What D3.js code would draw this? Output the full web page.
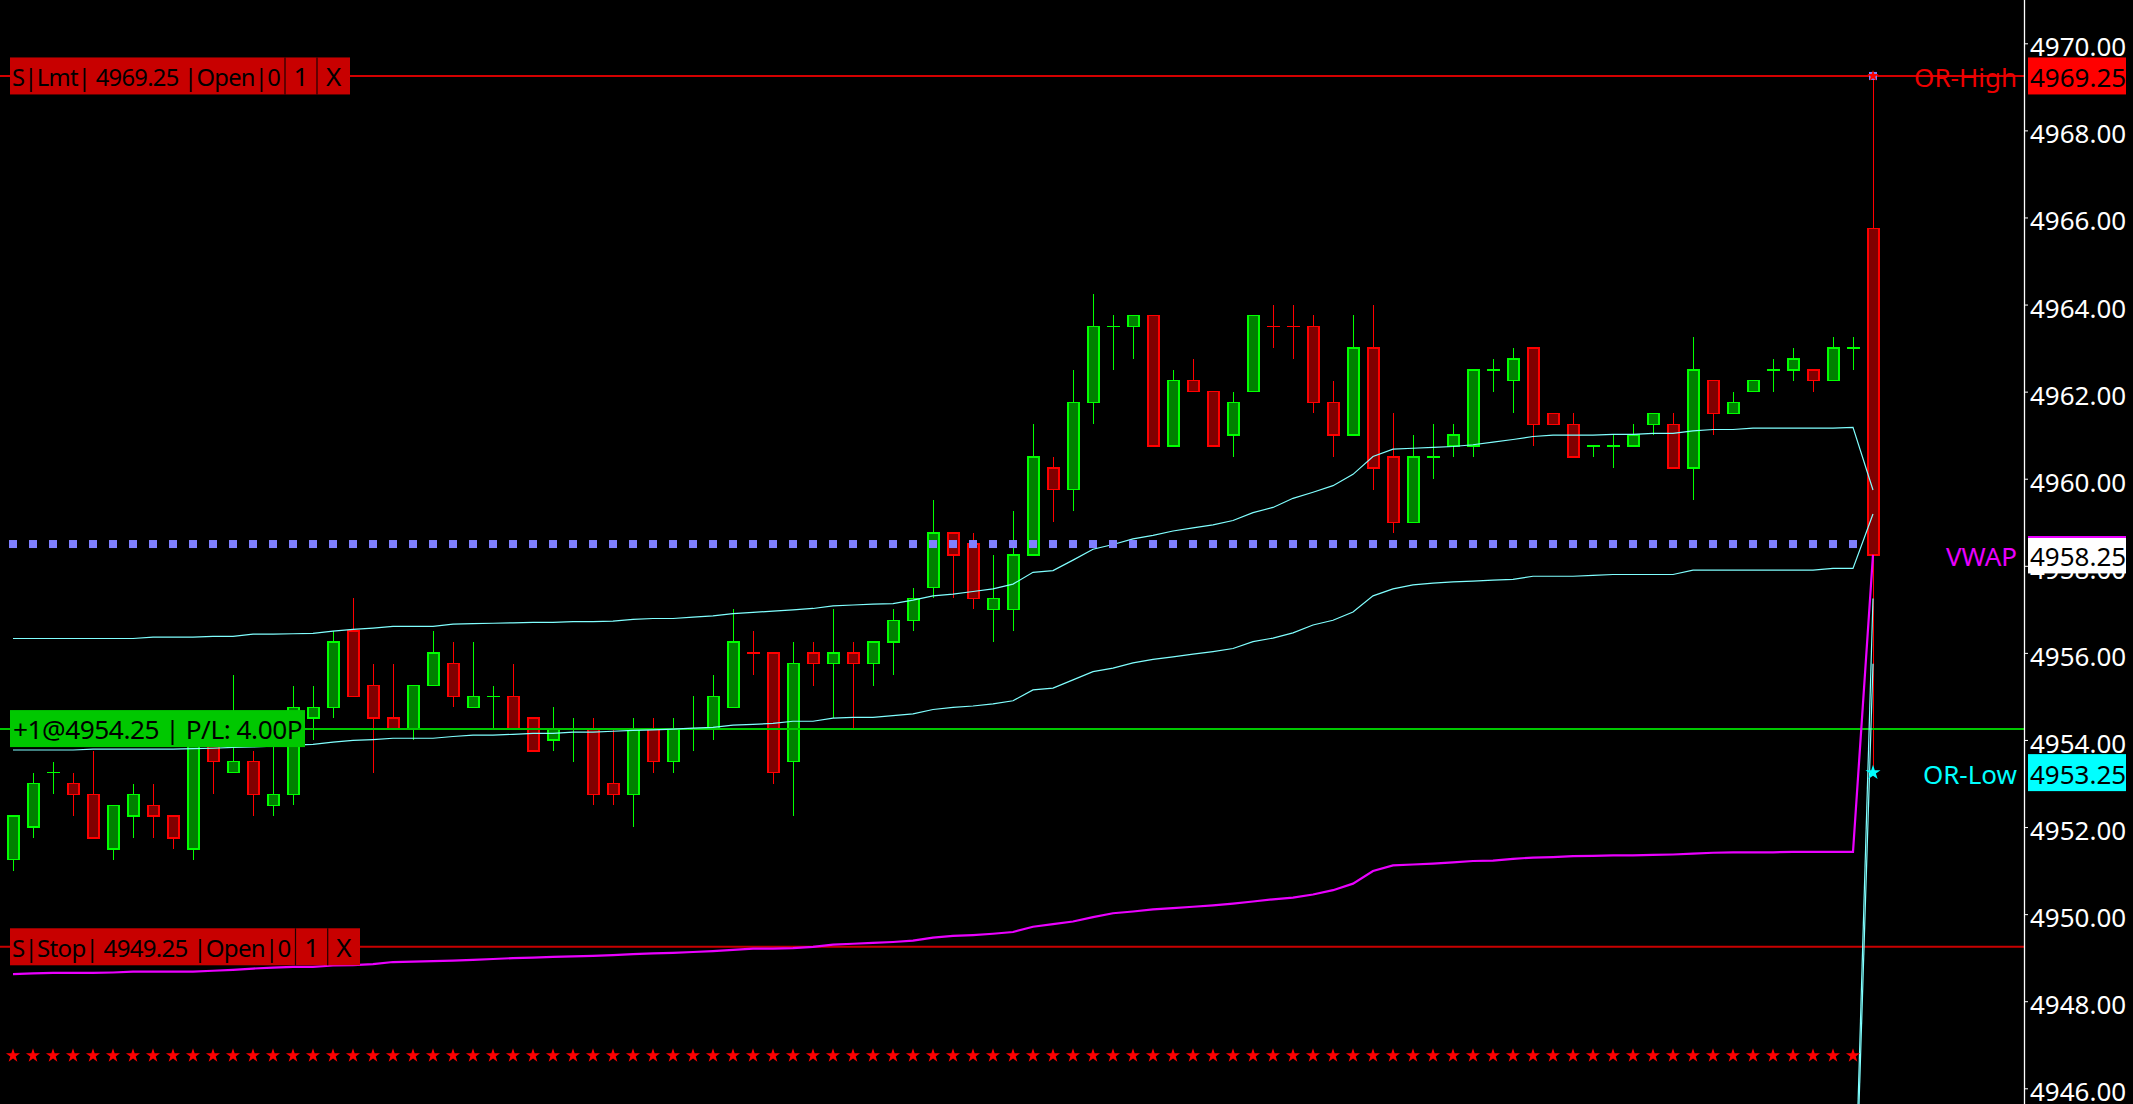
<!DOCTYPE html>
<html>
<head>
<meta charset="utf-8">
<script src="https://cdn.jsdelivr.net/npm/d3@7"></script>
<style>
html, body { margin: 0; padding: 0; background: #000; overflow: hidden; }
svg { display: block; }
</style>
</head>
<body>
<svg id="chart" width="2133" height="1104"></svg>
<script>
// bar data (one value per bar, left to right)
const opens = [4951.25,4952.0,4953.25,4953.0,4952.75,4951.5,4952.25,4952.5,4952.25,4951.5,
  4954.0,4953.25,4953.5,4952.5,4952.75,4954.5,4954.75,4956.5,4955.25,4954.5,
  4954.25,4955.25,4955.75,4954.75,4955.0,4955.0,4954.5,4954.0,4954.25,4954.25,
  4953.0,4952.75,4954.25,4953.5,4954.25,4954.25,4954.75,4956.0,4956.0,4953.5,
  4956.0,4955.75,4956.0,4955.75,4956.25,4956.75,4957.5,4958.75,4958.5,4957.0,
  4957.0,4958.25,4960.25,4959.75,4961.75,4963.5,4963.5,4963.75,4960.75,4962.25,
  4962.0,4961.0,4962.0,4963.5,4963.5,4963.5,4961.75,4961.0,4963.0,4960.5,
  4959.0,4960.5,4960.75,4960.75,4962.5,4962.25,4963.0,4961.5,4961.25,4960.75,
  4960.75,4960.75,4961.25,4961.25,4960.25,4962.25,4961.5,4962.0,4962.5,4962.5,
  4962.5,4962.25,4963.0,4965.75];
const highs = [4952.25,4953.25,4953.5,4953.25,4953.75,4952.5,4953.0,4953.0,4952.25,4954.25,
  4954.25,4955.5,4953.75,4954.0,4955.25,4955.25,4956.5,4957.25,4955.75,4955.75,
  4955.25,4956.5,4956.25,4956.25,4955.25,4955.75,4954.5,4954.75,4954.5,4954.5,
  4954.25,4954.5,4954.5,4954.5,4955.0,4955.5,4957.0,4956.5,4956.0,4956.25,
  4956.25,4957.0,4956.25,4956.25,4957.0,4957.5,4959.5,4958.75,4958.75,4958.25,
  4959.25,4961.25,4960.5,4962.5,4964.25,4963.75,4963.75,4963.75,4962.5,4962.75,
  4962.0,4962.0,4963.75,4964.0,4964.0,4963.75,4962.25,4963.75,4964.0,4961.5,
  4961.0,4961.25,4961.25,4962.5,4962.75,4963.0,4963.0,4961.5,4961.5,4960.75,
  4961.0,4961.25,4961.5,4961.5,4963.25,4962.25,4962.0,4962.25,4962.75,4963.0,
  4962.5,4963.25,4963.25,4969.25];
const lows = [4951.0,4951.75,4952.75,4952.25,4951.75,4951.25,4951.75,4951.75,4951.5,4951.25,
  4952.75,4953.25,4952.25,4952.25,4952.5,4954.0,4954.5,4955.0,4953.25,4954.25,
  4954.0,4955.25,4954.75,4954.75,4954.25,4954.25,4953.75,4953.75,4953.5,4952.5,
  4952.5,4952.0,4953.25,4953.25,4953.75,4954.0,4954.75,4955.5,4953.0,4952.25,
  4955.25,4954.5,4954.25,4955.25,4955.5,4956.5,4957.25,4957.25,4957.0,4956.25,
  4956.5,4958.25,4959.0,4959.25,4961.25,4962.5,4962.75,4960.75,4960.75,4962.0,
  4960.75,4960.5,4962.0,4963.0,4962.75,4961.5,4960.5,4961.0,4959.75,4958.75,
  4959.0,4960.0,4960.5,4960.5,4962.0,4961.5,4960.75,4961.25,4960.5,4960.5,
  4960.25,4960.75,4961.0,4960.25,4959.5,4961.0,4961.5,4962.0,4962.0,4962.25,
  4962.0,4962.25,4962.5,4953.25];
const closes = [4952.25,4953.0,4953.25,4952.75,4951.75,4952.5,4952.75,4952.25,4951.75,4954.25,
  4953.5,4953.5,4952.75,4952.75,4954.75,4954.75,4956.25,4955.0,4954.5,4954.25,
  4955.25,4956.0,4955.0,4955.0,4955.0,4954.25,4953.75,4954.25,4954.25,4952.75,
  4952.75,4954.25,4953.5,4954.25,4954.25,4955.0,4956.25,4956.0,4953.25,4955.75,
  4955.75,4956.0,4955.75,4956.25,4956.75,4957.25,4958.75,4958.25,4957.25,4957.25,
  4958.25,4960.5,4959.75,4961.75,4963.5,4963.5,4963.75,4960.75,4962.25,4962.0,
  4960.75,4961.75,4963.75,4963.5,4963.5,4961.75,4961.0,4963.0,4960.25,4959.0,
  4960.5,4960.5,4961.0,4962.5,4962.5,4962.75,4961.25,4961.25,4960.5,4960.75,
  4960.75,4961.0,4961.5,4960.25,4962.5,4961.5,4961.75,4962.25,4962.5,4962.75,
  4962.25,4963.0,4963.0,4958.25];
// dojis that were painted as down bars
const dojiDown = [37, 63, 64];

// indicator lines
const bandUpper = [4956.33,4956.33,4956.33,4956.33,4956.33,4956.33,4956.33,4956.36,4956.36,4956.36,
  4956.38,4956.38,4956.43,4956.43,4956.44,4956.45,4956.50,4956.54,4956.57,4956.61,
  4956.61,4956.61,4956.66,4956.67,4956.68,4956.69,4956.70,4956.70,4956.72,4956.72,
  4956.73,4956.77,4956.79,4956.79,4956.82,4956.85,4956.90,4956.93,4956.96,4956.99,
  4957.02,4957.08,4957.10,4957.12,4957.13,4957.21,4957.31,4957.35,4957.41,4957.47,
  4957.58,4957.85,4957.89,4958.13,4958.38,4958.49,4958.62,4958.70,4958.80,4958.87,
  4958.94,4959.04,4959.22,4959.34,4959.55,4959.69,4959.84,4960.10,4960.51,4960.68,
  4960.70,4960.72,4960.74,4960.78,4960.84,4960.90,4960.97,4961.00,4961.00,4961.00,
  4961.02,4961.02,4961.04,4961.04,4961.10,4961.13,4961.13,4961.16,4961.16,4961.16,
  4961.16,4961.16,4961.18,4959.74];
const bandLower = [4953.77,4953.77,4953.77,4953.77,4953.79,4953.79,4953.79,4953.79,4953.79,4953.80,
  4953.81,4953.83,4953.84,4953.86,4953.88,4953.90,4953.95,4953.99,4954.01,4954.04,
  4954.04,4954.04,4954.08,4954.11,4954.11,4954.13,4954.15,4954.15,4954.18,4954.18,
  4954.20,4954.22,4954.23,4954.25,4954.27,4954.29,4954.34,4954.36,4954.38,4954.43,
  4954.43,4954.50,4954.52,4954.52,4954.56,4954.60,4954.70,4954.75,4954.78,4954.83,
  4954.90,4955.15,4955.19,4955.38,4955.57,4955.65,4955.77,4955.85,4955.91,4955.97,
  4956.03,4956.10,4956.26,4956.34,4956.46,4956.64,4956.75,4956.94,4957.31,4957.47,
  4957.56,4957.60,4957.63,4957.65,4957.67,4957.69,4957.76,4957.76,4957.76,4957.78,
  4957.80,4957.80,4957.80,4957.80,4957.90,4957.90,4957.90,4957.90,4957.90,4957.90,
  4957.90,4957.94,4957.94,4959.19];
const vwapLine = [4948.62,4948.64,4948.65,4948.65,4948.65,4948.66,4948.68,4948.68,4948.68,4948.68,
  4948.70,4948.72,4948.75,4948.77,4948.79,4948.79,4948.82,4948.83,4948.85,4948.90,
  4948.91,4948.92,4948.93,4948.95,4948.97,4948.99,4949.00,4949.02,4949.03,4949.04,
  4949.06,4949.08,4949.10,4949.11,4949.13,4949.15,4949.18,4949.21,4949.21,4949.22,
  4949.25,4949.30,4949.32,4949.34,4949.36,4949.39,4949.46,4949.50,4949.52,4949.55,
  4949.59,4949.71,4949.77,4949.83,4949.93,4950.02,4950.06,4950.11,4950.14,4950.17,
  4950.20,4950.24,4950.29,4950.34,4950.38,4950.45,4950.55,4950.70,4950.99,4951.12,
  4951.14,4951.16,4951.19,4951.22,4951.23,4951.27,4951.30,4951.31,4951.33,4951.34,
  4951.35,4951.35,4951.36,4951.37,4951.39,4951.41,4951.42,4951.42,4951.42,4951.43,
  4951.43,4951.43,4951.43,4958.25];
// outer bands only show on the last segment (earlier values are below the chart)
const outerIdx = [92, 93];
const outerUpper = [4941.75, 4957.25];
const outerLower = [4941.25, 4955.75];

const priorLevel = 4958.5;      // dotted blue level
const starLevel = 4946.75;      // red star row
const orHigh = 4969.25;
const orLow = 4953.25;
const vwapPrice = 4958.25;
const limitPrice = 4969.25;
const stopPrice = 4949.25;
const entryPrice = 4954.25;

const priceTicks = [4946, 4948, 4950, 4952, 4954, 4956, 4958, 4960, 4962, 4964, 4966, 4968, 4970];
const limitText = "S|Lmt| 4969.25 |Open|0";
const stopText = "S|Stop| 4949.25 |Open|0";
const positionText = "+1@4954.25 | P/L: 4.00P";

const width = 2133, height = 1104;
const axisX = 2024;
const font = "'Noto Sans', 'Open Sans', sans-serif";
const upStroke = "#00ff00", upFill = "#008000";
const downStroke = "#ff0000", downFill = "#800000";

const svg = d3.select("#chart");
svg.append("rect").attr("width", width).attr("height", height).attr("fill", "#000");

const x = d3.scaleLinear().domain([0, opens.length - 1]).range([13, 1873]);
const y = d3.scaleLinear().domain([4946, 4970]).range([1088.3, 43.3]);

svg.append("clipPath").attr("id", "plotClip")
  .append("rect").attr("width", axisX).attr("height", height);

const plot = svg.append("g").attr("clip-path", "url(#plotClip)");

const bars = opens.map((o, i) => {
  const c = closes[i];
  const up = c > o || (c === o && !dojiDown.includes(i));
  return {i, o, h: highs[i], l: lows[i], c, up};
});

/**
 * Candles: wick first, then the body (or a flat tick for dojis).
 */
const candle = plot.append("g").selectAll("g")
  .data(bars)
  .join("g")
  .attr("shape-rendering", "crispEdges");
candle.append("line")
  .attr("x1", d => Math.round(x(d.i)) + 0.5)
  .attr("x2", d => Math.round(x(d.i)) + 0.5)
  .attr("y1", d => y(d.h))
  .attr("y2", d => y(d.l))
  .attr("stroke", d => d.up ? upStroke : downStroke)
  .attr("stroke-width", 1);
candle.filter(d => d.o !== d.c)
  .append("rect")
  .attr("x", d => Math.round(x(d.i)) - 5)
  .attr("width", 11)
  .attr("y", d => y(Math.max(d.o, d.c)))
  .attr("height", d => y(Math.min(d.o, d.c)) - y(Math.max(d.o, d.c)))
  .attr("fill", d => d.up ? upFill : downFill)
  .attr("stroke", d => d.up ? upStroke : downStroke)
  .attr("stroke-width", 1.4);
candle.filter(d => d.o === d.c)
  .append("line")
  .attr("x1", d => Math.round(x(d.i)) - 6)
  .attr("x2", d => Math.round(x(d.i)) + 7)
  .attr("y1", d => y(d.o))
  .attr("y2", d => y(d.o))
  .attr("stroke", d => d.up ? upStroke : downStroke)
  .attr("stroke-width", 1.4);

// horizontal order / position lines
plot.append("line")
  .attr("x1", 0).attr("x2", axisX)
  .attr("y1", y(limitPrice)).attr("y2", y(limitPrice))
  .attr("stroke", "#d40000").attr("stroke-width", 2);
plot.append("line")
  .attr("x1", 0).attr("x2", axisX)
  .attr("y1", y(stopPrice)).attr("y2", y(stopPrice))
  .attr("stroke", "#c80000").attr("stroke-width", 2);
plot.append("line")
  .attr("x1", 0).attr("x2", axisX)
  .attr("y1", y(entryPrice)).attr("y2", y(entryPrice))
  .attr("stroke", "#00c800").attr("stroke-width", 2);

// indicator lines
const line = d3.line().x((d, i) => x(i)).y(d => y(d));
plot.append("path").datum(bandUpper).attr("d", line)
  .attr("fill", "none").attr("stroke", "#80ffff").attr("stroke-width", 1.2);
plot.append("path").datum(bandLower).attr("d", line)
  .attr("fill", "none").attr("stroke", "#80ffff").attr("stroke-width", 1.2);
plot.append("path").datum(vwapLine).attr("d", line)
  .attr("fill", "none").attr("stroke", "#ea00ff").attr("stroke-width", 2.2);

const outerLine = d3.line().x((d, k) => x(outerIdx[k])).y(d => y(d));
[outerUpper, outerLower].forEach(arr => {
  plot.append("path").datum(arr).attr("d", outerLine)
    .attr("fill", "none").attr("stroke", "#80ffff").attr("stroke-width", 1.2);
});

// dotted prior level and star row (all bars except the current one)
const history = bars.slice(0, bars.length - 1);
plot.append("g").selectAll("rect")
  .data(history)
  .join("rect")
  .attr("x", d => x(d.i) - 4)
  .attr("y", y(priorLevel) - 4)
  .attr("width", 8)
  .attr("height", 8)
  .attr("fill", "#8080ff");

const star = d3.symbol(d3.symbolStar, 62);
plot.append("g").selectAll("path")
  .data(history)
  .join("path")
  .attr("transform", d => `translate(${x(d.i)},${y(starLevel)})`)
  .attr("d", star)
  .attr("fill", "#ff0000");

// opening range markers on the current bar
const last = bars.length - 1;
plot.append("rect")
  .attr("x", x(last) - 4).attr("y", y(orHigh) - 4)
  .attr("width", 8).attr("height", 8)
  .attr("fill", "#8080ff");
plot.append("path")
  .attr("transform", `translate(${x(last)},${y(orHigh)})`)
  .attr("d", d3.symbol(d3.symbolStar, 40))
  .attr("fill", "#ff0000");
plot.append("path")
  .attr("transform", `translate(${x(last)},${y(orLow)})`)
  .attr("d", d3.symbol(d3.symbolStar, 70))
  .attr("fill", "#00ffff");

/**
 * Shrink a text's font until its natural width fits the given width.
 */
function fitText(sel, maxWidth, size) {
  sel.attr("font-size", size);
  const w = sel.node().getComputedTextLength();
  if (w > maxWidth) sel.attr("font-size", size * maxWidth / w);
  return sel;
}

/**
 * Order label drawn over the left end of an order line: main text plus "1" and "X" cells.
 */
function orderLabel(price, text, cells) {
  const yc = y(price);
  const g = svg.append("g");
  g.append("rect")
    .attr("x", 10).attr("y", yc - 18.5)
    .attr("width", cells[2] - 10).attr("height", 37)
    .attr("fill", "#c80000");
  g.selectAll("line")
    .data(cells.slice(0, 2))
    .join("line")
    .attr("x1", d => d).attr("x2", d => d)
    .attr("y1", yc - 18.5).attr("y2", yc + 18.5)
    .attr("stroke", "#200000").attr("stroke-width", 1.2);
  const main = g.append("text")
    .attr("x", 12).attr("y", yc + 10)
    .attr("font-family", font)
    .attr("letter-spacing", -0.7)
    .attr("fill", "#000")
    .text(text);
  fitText(main, cells[0] - 15, 27);
  g.selectAll(".cell")
    .data([["1", (cells[0] + cells[1]) / 2], ["X", (cells[1] + cells[2]) / 2]])
    .join("text")
    .attr("class", "cell")
    .attr("x", d => d[1]).attr("y", yc + 10)
    .attr("text-anchor", "middle")
    .attr("font-family", font).attr("font-size", 26)
    .attr("fill", "#000")
    .text(d => d[0]);
}
orderLabel(limitPrice, limitText, [285, 317, 350]);
orderLabel(stopPrice, stopText, [295.5, 327.7, 360]);

// position label
const posY = y(entryPrice);
svg.append("rect")
  .attr("x", 10).attr("y", posY - 19)
  .attr("width", 295).attr("height", 37)
  .attr("fill", "#00c800");
const posText = svg.append("text")
  .attr("x", 13).attr("y", posY + 9.5)
  .attr("font-family", font)
  .attr("letter-spacing", -0.5)
  .attr("fill", "#000")
  .text(positionText);
fitText(posText, 290, 28);

// price axis
svg.append("line")
  .attr("x1", axisX + 0.5).attr("x2", axisX + 0.5)
  .attr("y1", 0).attr("y2", height)
  .attr("stroke", "#fff").attr("stroke-width", 1.3);

const yAxis = d3.axisRight(y)
  .tickValues(priceTicks)
  .tickFormat(d3.format(".2f"))
  .tickSize(4)
  .tickPadding(2);
svg.append("g")
  .attr("transform", `translate(${axisX},0)`)
  .call(yAxis)
  .call(g => g.select(".domain").remove())
  .call(g => g.selectAll(".tick line").attr("stroke", "#fff"))
  .call(g => g.selectAll(".tick text")
    .attr("fill", "#fff")
    .attr("font-family", font)
    .attr("font-size", 26)
    .attr("dy", "0.48em"));

/**
 * Price marker on the axis plus its name to the left of the axis.
 */
function axisMarker(price, name, nameColor, boxColor) {
  const yc = y(price);
  svg.append("rect")
    .attr("x", axisX + 4).attr("y", yc - 18.5)
    .attr("width", 98).attr("height", 37)
    .attr("fill", boxColor);
  svg.append("text")
    .attr("x", axisX + 6).attr("y", yc + 11)
    .attr("font-family", font).attr("font-size", 26)
    .attr("fill", "#000")
    .text(d3.format(".2f")(price));
  svg.append("text")
    .attr("x", axisX - 7).attr("y", yc + 11)
    .attr("text-anchor", "end")
    .attr("font-family", font).attr("font-size", 26)
    .attr("fill", nameColor)
    .text(name);
  return yc;
}
axisMarker(orHigh, "OR-High", "#ee0000", "#ff0000");
const vwapY = axisMarker(vwapPrice, "VWAP", "#ea00ff", "#ffffff");
svg.append("line")
  .attr("x1", axisX + 4).attr("x2", axisX + 102)
  .attr("y1", vwapY - 18).attr("y2", vwapY - 18)
  .attr("stroke", "#ea00ff").attr("stroke-width", 2);
axisMarker(orLow, "OR-Low", "#00ffff", "#00ffff");
</script>
</body>
</html>
